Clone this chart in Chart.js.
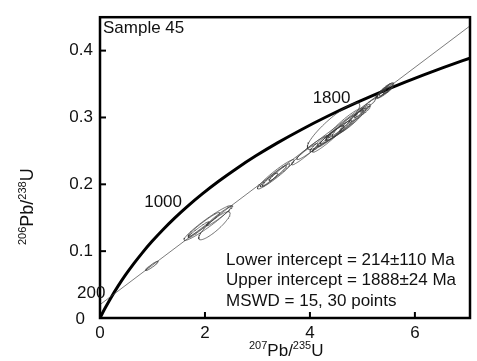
<!DOCTYPE html>
<html>
<head>
<meta charset="utf-8">
<script src="https://cdn.jsdelivr.net/npm/chart.js@4.4.1/dist/chart.umd.min.js"></script>
<style>
  body { margin: 0; background: #fff; }
  canvas { display: block; }
</style>
</head>
<body>
<canvas id="concordia" width="477" height="361"></canvas>
<script>
// Concordia curve points (207Pb/235U, 206Pb/238U), every 100 Ma
const concordiaX = [0, 0.0505, 0.1035, 0.2177, 0.3438, 0.4828, 0.6362, 0.8057, 0.9925, 1.1987, 1.4263, 1.6774, 1.9545, 2.2604, 2.5977, 2.9701, 3.3812, 3.8344, 4.3347, 4.8869, 5.4962, 6.1685, 6.9104, 7.7289];
const concordiaY = [0, 0.0078, 0.0156, 0.0315, 0.0476, 0.0640, 0.0806, 0.0975, 0.1147, 0.1321, 0.1498, 0.1678, 0.1861, 0.2046, 0.2234, 0.2426, 0.2620, 0.2817, 0.3018, 0.3221, 0.3428, 0.3638, 0.3851, 0.4068];

// Age labels on the concordia
const ageLabels = ['200', '1000', '1800'];
const ageX = [0.2177, 1.6774, 4.8869];
const ageY = [0.0315, 0.1678, 0.3221];

// Discordia line through the two intercepts, extended to the frame
const discordiaX = [0, 7.05];
const discordiaY = [0.020, 0.437];

// Error ellipses: centre, half-widths and error correlation
const ellX   = [0.99, 2.05, 2.18, 1.98, 2.28, 1.88, 3.35, 3.30, 3.42, 3.24, 3.90, 4.05, 4.20, 4.45, 4.50, 4.60, 4.40, 4.72, 4.55, 4.82, 4.35, 4.66, 5.00, 5.10, 4.95, 5.40, 5.45, 5.35, 5.50, 5.42];
const ellY   = [0.078, 0.142, 0.138, 0.140, 0.153, 0.132, 0.215, 0.212, 0.218, 0.207, 0.245, 0.255, 0.262, 0.287, 0.278, 0.285, 0.272, 0.291, 0.282, 0.296, 0.268, 0.290, 0.310, 0.318, 0.305, 0.338, 0.342, 0.335, 0.344, 0.339];
const ellSX  = [0.12, 0.45, 0.30, 0.30, 0.25, 0.20, 0.35, 0.25, 0.20, 0.15, 0.25, 0.30, 0.20, 0.50, 0.30, 0.30, 0.25, 0.30, 0.20, 0.25, 0.30, 0.35, 0.15, 0.15, 0.20, 0.12, 0.13, 0.10, 0.10, 0.15];
const ellSY  = [0.007, 0.026, 0.021, 0.018, 0.015, 0.012, 0.022, 0.016, 0.013, 0.010, 0.016, 0.018, 0.013, 0.035, 0.018, 0.020, 0.016, 0.020, 0.012, 0.018, 0.020, 0.024, 0.010, 0.010, 0.012, 0.008, 0.009, 0.007, 0.008, 0.010];
const ellRho = [0.95, 0.96, 0.88, 0.97, 0.97, 0.97, 0.96, 0.97, 0.97, 0.95, 0.96, 0.96, 0.95, 0.90, 0.96, 0.96, 0.96, 0.95, 0.97, 0.95, 0.96, 0.94, 0.95, 0.95, 0.95, 0.90, 0.85, 0.90, 0.80, 0.88];

// Axis ticks and texts
const xTicks = [0, 2, 4, 6];
const yTicks = [0, 0.1, 0.2, 0.3, 0.4];
const sampleName = 'Sample 45';
const resultLines = ['Lower intercept = 214\u00b1110 Ma', 'Upper intercept = 1888\u00b124 Ma', 'MSWD = 15, 30 points'];

const FONT = '"Liberation Sans", Arial, sans-serif';

// Outline of one error ellipse
function ellipsePoints(i) {
    const pts = [];
    for (let k = 0; k <= 72; k++) {
        const a = k / 72 * 2 * Math.PI;
        const r = ellRho[i];
        pts.push({
            x: ellX[i] + ellSX[i] * Math.cos(a),
            y: ellY[i] + ellSY[i] * (r * Math.cos(a) + Math.sqrt(1 - r * r) * Math.sin(a))
        });
    }
    return pts;
}

const datasets = [];
ellX.forEach((_, i) => {
    datasets.push({
        data: ellipsePoints(i),
        showLine: true,
        borderColor: '#3a3a3a',
        borderWidth: 0.7,
        pointRadius: 0,
        tension: 0
    });
});
datasets.push({
    data: discordiaX.map((x, i) => ({ x: x, y: discordiaY[i] })),
    showLine: true,
    borderColor: '#444',
    borderWidth: 0.7,
    pointRadius: 0
});
datasets.push({
    data: concordiaX.map((x, i) => ({ x: x, y: concordiaY[i] })),
    showLine: true,
    borderColor: '#000',
    borderWidth: 3,
    pointRadius: 0,
    cubicInterpolationMode: 'monotone'
});

// Frame, inward ticks, titles and annotations
const decorations = {
    id: 'decorations',
    afterDraw(chart) {
        const ctx = chart.ctx;
        const area = chart.chartArea;
        const xs = chart.scales.x;
        const ys = chart.scales.y;
        ctx.save();
        ctx.strokeStyle = '#000';
        ctx.lineWidth = 2.5;
        ctx.strokeRect(area.left, area.top, area.right - area.left, area.bottom - area.top);

        ctx.lineWidth = 2;
        xTicks.forEach(v => {
            const px = xs.getPixelForValue(v);
            ctx.beginPath();
            ctx.moveTo(px, area.bottom);
            ctx.lineTo(px, area.bottom - 6);
            ctx.stroke();
        });
        yTicks.forEach(v => {
            const py = ys.getPixelForValue(v);
            ctx.beginPath();
            ctx.moveTo(area.left, py);
            ctx.lineTo(area.left + 6, py);
            ctx.stroke();
        });

        ctx.fillStyle = '#111';
        ctx.font = '17px ' + FONT;
        ctx.textBaseline = 'middle';
        ctx.textAlign = 'left';
        ctx.fillText(sampleName, area.left + 3, area.top + 11);

        resultLines.forEach((t, i) => {
            ctx.fillText(t, 226, 260 + i * 20.5);
        });

        // y zero label sits lower-left of the corner
        ctx.textAlign = 'right';
        ctx.fillText('0', area.left - 15, ys.getPixelForValue(0) + 1);

        ageLabels.forEach((t, i) => {
            const px = xs.getPixelForValue(ageX[i]);
            const py = ys.getPixelForValue(ageY[i]);
            ctx.fillText(t, px - 6, py - 4);
        });

        // x title: 207Pb/235U
        ctx.textBaseline = 'alphabetic';
        ctx.textAlign = 'left';
        let x = 249;
        const base = 356;
        const parts = [['207', true], ['Pb/', false], ['235', true], ['U', false]];
        parts.forEach(([t, sup]) => {
            ctx.font = (sup ? '11px ' : '17px ') + FONT;
            ctx.fillText(t, x, sup ? base - 7 : base);
            x += ctx.measureText(t).width;
        });

        // y title: 206Pb/238U, rotated
        ctx.translate(33, 245);
        ctx.rotate(-Math.PI / 2);
        x = 0;
        const yparts = [['206', true], ['Pb/', false], ['238', true], ['U', false]];
        yparts.forEach(([t, sup]) => {
            ctx.font = (sup ? '11px ' : '18px ') + FONT;
            ctx.fillText(t, x, sup ? -7 : 0);
            x += ctx.measureText(t).width;
        });
        ctx.restore();
    }
};

new Chart(document.getElementById('concordia'), {
    type: 'scatter',
    data: { datasets: datasets },
    options: {
        responsive: false,
        animation: false,
        layout: { padding: { top: 12, right: 7, left: 0, bottom: 0 } },
        plugins: {
            legend: { display: false },
            tooltip: { enabled: false }
        },
        scales: {
            x: {
                type: 'linear',
                min: 0,
                max: 7.05,
                border: { display: false },
                grid: { display: false, drawTicks: false },
                afterFit(scale) { scale.height = 43; },
                afterBuildTicks(scale) { scale.ticks = xTicks.map(v => ({ value: v })); },
                ticks: {
                    padding: 5,
                    color: '#111',
                    font: { family: FONT, size: 17 },
                    maxRotation: 0,
                    callback: v => String(v)
                }
            },
            y: {
                type: 'linear',
                min: 0,
                max: 0.45,
                border: { display: false },
                grid: { display: false, drawTicks: false },
                afterFit(scale) { scale.width = 100; },
                afterBuildTicks(scale) { scale.ticks = yTicks.map(v => ({ value: v })); },
                ticks: {
                    padding: 7,
                    color: '#111',
                    font: { family: FONT, size: 17 },
                    callback: v => (v === 0 ? '' : v.toFixed(1))
                }
            }
        }
    },
    plugins: [decorations]
});
</script>
</body>
</html>
